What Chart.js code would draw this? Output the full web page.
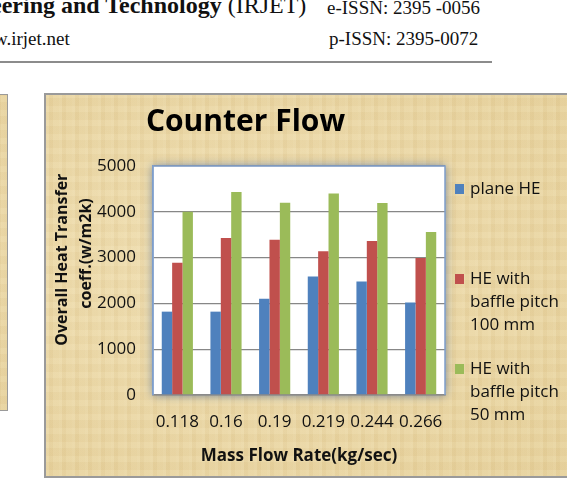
<!DOCTYPE html>
<html>
<head>
<meta charset="utf-8">
<script src="https://cdn.jsdelivr.net/npm/chart.js@4.4.0/dist/chart.umd.min.js"></script>
<style>
  html, body { margin: 0; padding: 0; width: 567px; height: 482px; overflow: hidden; background: #fff; position: relative; }
  .hdr { position: absolute; white-space: nowrap; color: #111; font-family: 'Liberation Serif', serif; }
  .parch {
    position: absolute; box-sizing: border-box; border: 2px solid #9a9a9a;
    background-color: #e8d39f;
    background-image:
      repeating-linear-gradient(90deg, rgba(255,250,225,0.10) 0 3px, rgba(160,120,50,0.035) 3px 7px, rgba(255,250,225,0.05) 7px 13px),
      repeating-linear-gradient(0deg, rgba(255,250,225,0.06) 0 6px, rgba(160,120,50,0.03) 6px 14px),
      radial-gradient(ellipse at 35% 45%, rgba(255,245,215,0.30), rgba(215,185,115,0.12));
  }
</style>
</head>
<body>
<div class="hdr" style="left:-9px; top:-8px; font-size:24px;"><b>eering and Technology</b> (IRJET)</div>
<div class="hdr" style="left:327px; top:-3px; font-size:19px;">e-ISSN: 2395 -0056</div>
<div class="hdr" style="left:-6px; top:28px; font-size:19px;">w.irjet.net</div>
<div class="hdr" style="left:329px; top:28px; font-size:19px;">p-ISSN: 2395-0072</div>
<div style="position:absolute; left:0; top:61px; width:492px; height:2px; background:#8c8c8c;"></div>

<div class="parch" style="left:-20px; top:94px; width:28px; height:317px; border-width:1px;"></div>
<div class="parch" style="left:44px; top:93px; width:534px; height:385px;">
  <canvas id="counterFlowChart" width="530" height="381"></canvas>
</div>

<script>
// Datos de la gráfica "Counter Flow"
const massFlowRates = ['0.118', '0.16', '0.19', '0.219', '0.244', '0.266'];
const planeHE = [1820, 1820, 2100, 2590, 2480, 2020];
const bafflePitch100 = [2890, 3430, 3390, 3140, 3360, 2990];
const bafflePitch50 = [4000, 4430, 4200, 4400, 4190, 3560];
const seriesNames = [['plane HE'], ['HE with', 'baffle pitch', '100 mm'], ['HE with', 'baffle pitch', '50 mm']];
const seriesColors = ['#4f81bd', '#c0504d', '#9bbb59'];
const yTicks = [0, 1000, 2000, 3000, 4000, 5000];

const FONT = "'Open Sans', sans-serif";

// Fondo blanco del área de trazado con brillo azulado
const plotAreaBackground = {
  id: 'plotAreaBackground',
  beforeDraw(chart) {
    const { ctx, chartArea: a } = chart;
    ctx.save();
    ctx.shadowColor = 'rgba(70,100,150,0.75)';
    ctx.shadowBlur = 9;
    ctx.fillStyle = '#ffffff';
    ctx.fillRect(a.left, a.top, a.width, a.height);
    ctx.restore();
  },
  afterDraw(chart) {
    const { ctx, chartArea: a } = chart;
    ctx.save();
    ctx.strokeStyle = '#7f9fcc';
    ctx.lineWidth = 1.5;
    ctx.beginPath();
    ctx.moveTo(a.left, a.bottom);
    ctx.lineTo(a.left, a.top);
    ctx.lineTo(a.right, a.top);
    ctx.lineTo(a.right, a.bottom);
    ctx.stroke();
    ctx.restore();
  }
};

// Leyenda con etiquetas de varias líneas
const multiLineLegend = {
  id: 'multiLineLegend',
  afterDraw(chart) {
    const { ctx, chartArea: a } = chart;
    const x = a.right + 10;
    ctx.save();
    ctx.font = '17px ' + FONT;
    ctx.textBaseline = 'middle';
    chart.data.datasets.forEach((ds, i) => {
      const y0 = a.top + 23 + i * 90;
      ctx.fillStyle = ds.backgroundColor;
      ctx.fillRect(x, y0 - 5, 9, 10);
      ctx.fillStyle = '#111';
      ds.legendLines.forEach((line, j) => {
        ctx.fillText(line, x + 15, y0 + j * 23);
      });
    });
    ctx.restore();
  }
};

const ctx = document.getElementById('counterFlowChart');
const seriesValues = [planeHE, bafflePitch100, bafflePitch50];

new Chart(ctx, {
  type: 'bar',
  data: {
    labels: massFlowRates,
    datasets: seriesValues.map((values, i) => ({
      label: seriesNames[i].join(' '),
      legendLines: seriesNames[i],
      data: values,
      backgroundColor: seriesColors[i],
      borderWidth: 0,
      barPercentage: 1.0,
      categoryPercentage: 0.64
    }))
  },
  options: {
    responsive: false,
    animation: false,
    layout: { padding: { top: 0, right: 131, bottom: 0, left: 0 } },
    plugins: {
      legend: { display: false },
      tooltip: { enabled: false },
      title: {
        display: true,
        text: 'Counter Flow',
        color: '#000',
        font: { family: FONT, size: 30, weight: 'bold' },
        padding: { top: 9, bottom: 26 }
      }
    },
    scales: {
      x: {
        afterFit(scale) { scale.height = 81; },
        grid: { display: false, drawTicks: false },
        border: { color: '#8a8a8a', width: 1.5 },
        ticks: {
          color: '#111', padding: 17, maxRotation: 0, autoSkip: false,
          font: { family: FONT, size: 17 }
        },
        title: {
          display: true,
          text: 'Mass Flow Rate(kg/sec)',
          color: '#111',
          font: { family: FONT, size: 17, weight: 'bold' },
          padding: { top: 0, bottom: 10 }
        }
      },
      y: {
        min: 0,
        max: 5000,
        afterFit(scale) { scale.width = 107; },
        afterBuildTicks(scale) { scale.ticks = yTicks.map(v => ({ value: v })); },
        grid: { color: '#878787', lineWidth: 1.3, drawTicks: false },
        border: { color: '#7f9fcc', width: 1.5 },
        ticks: {
          color: '#111', padding: 17,
          font: { family: FONT, size: 17 },
          callback: v => String(v)
        },
        title: {
          display: true,
          // espacios iniciales para subir el texto como en el original
          text: ['          Overall Heat Transfer', '             coeff.(w/m2k)'],
          color: '#111',
          font: { family: FONT, size: 16, weight: 'bold', lineHeight: 1.5 },
          padding: { top: 4, bottom: 0 }
        }
      }
    }
  },
  plugins: [plotAreaBackground, multiLineLegend]
});
</script>
</body>
</html>
